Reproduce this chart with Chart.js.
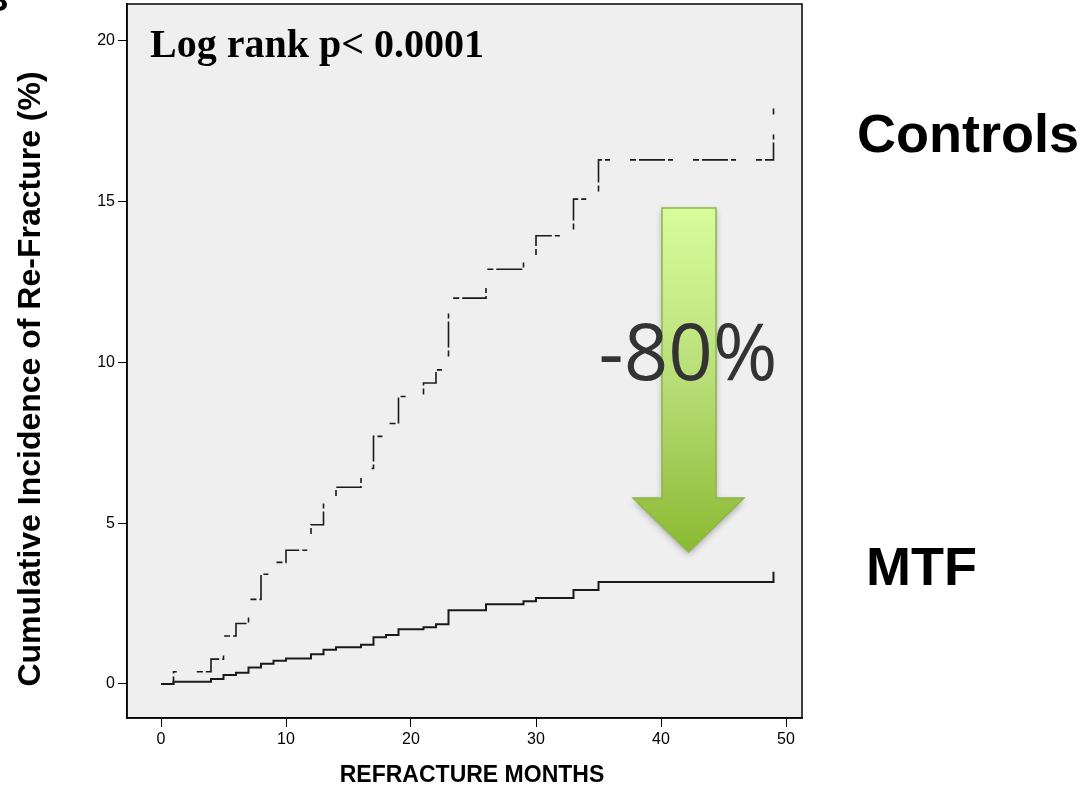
<!DOCTYPE html>
<html lang="en">
<head>
    <meta charset="UTF-8">
    <title>Cumulative Incidence of Re-Fracture</title>
    <script src="https://cdn.jsdelivr.net/npm/chart.js"></script>
    <style>
        html, body {
            margin: 0;
            padding: 0;
            background: #fff;
        }
        #chartContainer {
            width: 1085px;
            height: 790px;
        }
    </style>
</head>
<body>
    <div id="chartContainer">
        <canvas id="kmChart" width="1085" height="790"></canvas>
    </div>
    <script>
        // months at which the curves step up
        const months = [0, 1, 4, 5, 6, 7, 8, 9, 10, 12, 13, 14, 16, 17, 18, 19, 21, 22, 23, 26, 29, 30, 33, 35, 49];
        // cumulative incidence (%) after each step
        const controlValues = [0, 0.38, 0.77, 1.49, 1.88, 2.63, 3.41, 3.78, 4.16, 4.95, 5.72, 6.12, 6.7, 7.7, 8.1, 8.94, 9.36, 9.77, 12.0, 12.9, 13.3, 13.94, 15.08, 16.3, 17.9];
        const mtfValues = [0, 0.07, 0.15, 0.28, 0.35, 0.51, 0.63, 0.72, 0.79, 0.92, 1.06, 1.14, 1.22, 1.45, 1.52, 1.70, 1.76, 1.86, 2.29, 2.48, 2.57, 2.67, 2.92, 3.17, 3.49];
        const xTicks = [0, 10, 20, 30, 40, 50];
        const yTicks = [0, 5, 10, 15, 20];

        const seriesLabels = ['Controls', 'MTF'];
        const xTitle = 'REFRACTURE MONTHS';
        const yTitle = 'Cumulative Incidence of Re-Fracture (%)';
        const pValueText = 'Log rank p< 0.0001';
        const reductionText = '-80%';

        const toPoints = vals => vals.map((v, i) => ({ x: months[i], y: v }));

        // drop the label padding chart.js adds, so the frame sits where we want it
        const noPad = s => {
            s.paddingTop = 0;
            s.paddingBottom = 0;
            s.paddingLeft = 0;
            s.paddingRight = 0;
        };

        // background, frame, arrow and the extra texts
        const decorPlugin = {
            id: 'decor',
            beforeDraw(chart) {
                const { ctx, chartArea: a } = chart;
                ctx.save();
                ctx.fillStyle = '#fff';
                ctx.fillRect(0, 0, chart.width, chart.height);
                ctx.fillStyle = '#efefef';
                ctx.fillRect(a.left, a.top, a.right - a.left, a.bottom - a.top);
                ctx.restore();
            },
            afterDraw(chart) {
                const { ctx, chartArea: a } = chart;
                ctx.save();
                ctx.strokeStyle = '#000';
                ctx.lineWidth = 1.5;
                ctx.strokeRect(a.left, a.top, a.right - a.left, a.bottom - a.top);

                // green arrow
                ctx.save();
                ctx.beginPath();
                ctx.moveTo(662, 208);
                ctx.lineTo(716, 208);
                ctx.lineTo(716, 498);
                ctx.lineTo(744, 498);
                ctx.lineTo(688.5, 552);
                ctx.lineTo(633, 498);
                ctx.lineTo(662, 498);
                ctx.closePath();
                const grad = ctx.createLinearGradient(0, 208, 0, 552);
                grad.addColorStop(0, '#d8fc9c');
                grad.addColorStop(0.5, '#b8de78');
                grad.addColorStop(1, '#8aba32');
                ctx.shadowColor = 'rgba(0,0,0,0.3)';
                ctx.shadowBlur = 6;
                ctx.shadowOffsetY = 3;
                ctx.fillStyle = grad;
                ctx.fill();
                ctx.shadowColor = 'transparent';
                ctx.strokeStyle = '#8fb548';
                ctx.lineWidth = 1.5;
                ctx.stroke();
                ctx.restore();

                ctx.fillStyle = '#333';
                ctx.textAlign = 'center';
                ctx.textBaseline = 'alphabetic';
                ctx.font = '78px "Open Sans"';
                ctx.fillText(reductionText, 688, 380);

                ctx.fillStyle = '#000';
                ctx.textAlign = 'left';
                ctx.font = 'bold 40px "Liberation Serif"';
                ctx.fillText(pValueText, 150, 57);

                ctx.font = 'bold 54px "Liberation Sans"';
                ctx.fillText(seriesLabels[0], 857, 152);
                ctx.fillText(seriesLabels[1], 866, 585);

                // panel letter, cut off at the corner
                ctx.font = 'bold 34px "Liberation Sans"';
                ctx.fillText('B', -16, 11);

                // axis titles
                ctx.textAlign = 'center';
                ctx.textBaseline = 'middle';
                ctx.font = 'bold 23px "Liberation Sans"';
                ctx.fillText(xTitle, 472, 776);
                ctx.translate(31, 379);
                ctx.rotate(-Math.PI / 2);
                ctx.font = 'bold 32px "Liberation Sans"';
                ctx.fillText(yTitle, 0, 0);
                ctx.restore();
            }
        };

        const tickFont = { family: 'Liberation Sans', size: 16 };

        const ctx = document.getElementById('kmChart').getContext('2d');
        const kmChart = new Chart(ctx, {
            type: 'line',
            data: {
                datasets: [{
                    label: seriesLabels[0],
                    data: toPoints(controlValues),
                    stepped: true,
                    borderColor: '#1a1a1a',
                    borderWidth: 1.6,
                    borderDash: [26, 3, 5, 20, 6, 3],
                    borderDashOffset: 6,
                    pointRadius: 0,
                    fill: false
                }, {
                    label: seriesLabels[1],
                    data: toPoints(mtfValues),
                    stepped: true,
                    borderColor: '#1a1a1a',
                    borderWidth: 2,
                    pointRadius: 0,
                    fill: false
                }]
            },
            options: {
                responsive: false,
                animation: false,
                devicePixelRatio: 1,
                layout: {
                    padding: { top: 4, right: 283, left: 0, bottom: 0 }
                },
                plugins: {
                    legend: { display: false },
                    tooltip: { enabled: false }
                },
                scales: {
                    x: {
                        type: 'linear',
                        min: -2.72,
                        max: 51.28,
                        afterBuildTicks: s => { s.ticks = xTicks.map(v => ({ value: v })); },
                        afterFit: s => { s.height = 72; noPad(s); },
                        grid: {
                            drawOnChartArea: false,
                            drawTicks: true,
                            tickLength: 9,
                            color: '#000',
                            lineWidth: 1
                        },
                        border: { display: true, color: '#000', width: 1.5 },
                        ticks: { color: '#000', font: tickFont, padding: 3, maxRotation: 0 }
                    },
                    y: {
                        type: 'linear',
                        min: -1.06,
                        max: 21.15,
                        afterBuildTicks: s => { s.ticks = yTicks.map(v => ({ value: v })); },
                        afterFit: s => { s.width = 127; noPad(s); },
                        grid: {
                            drawOnChartArea: false,
                            drawTicks: true,
                            tickLength: 9,
                            color: '#000',
                            lineWidth: 1
                        },
                        border: { display: true, color: '#000', width: 1.5 },
                        ticks: { color: '#000', font: tickFont, padding: 3 }
                    }
                }
            },
            plugins: [decorPlugin]
        });
    </script>
</body>
</html>
